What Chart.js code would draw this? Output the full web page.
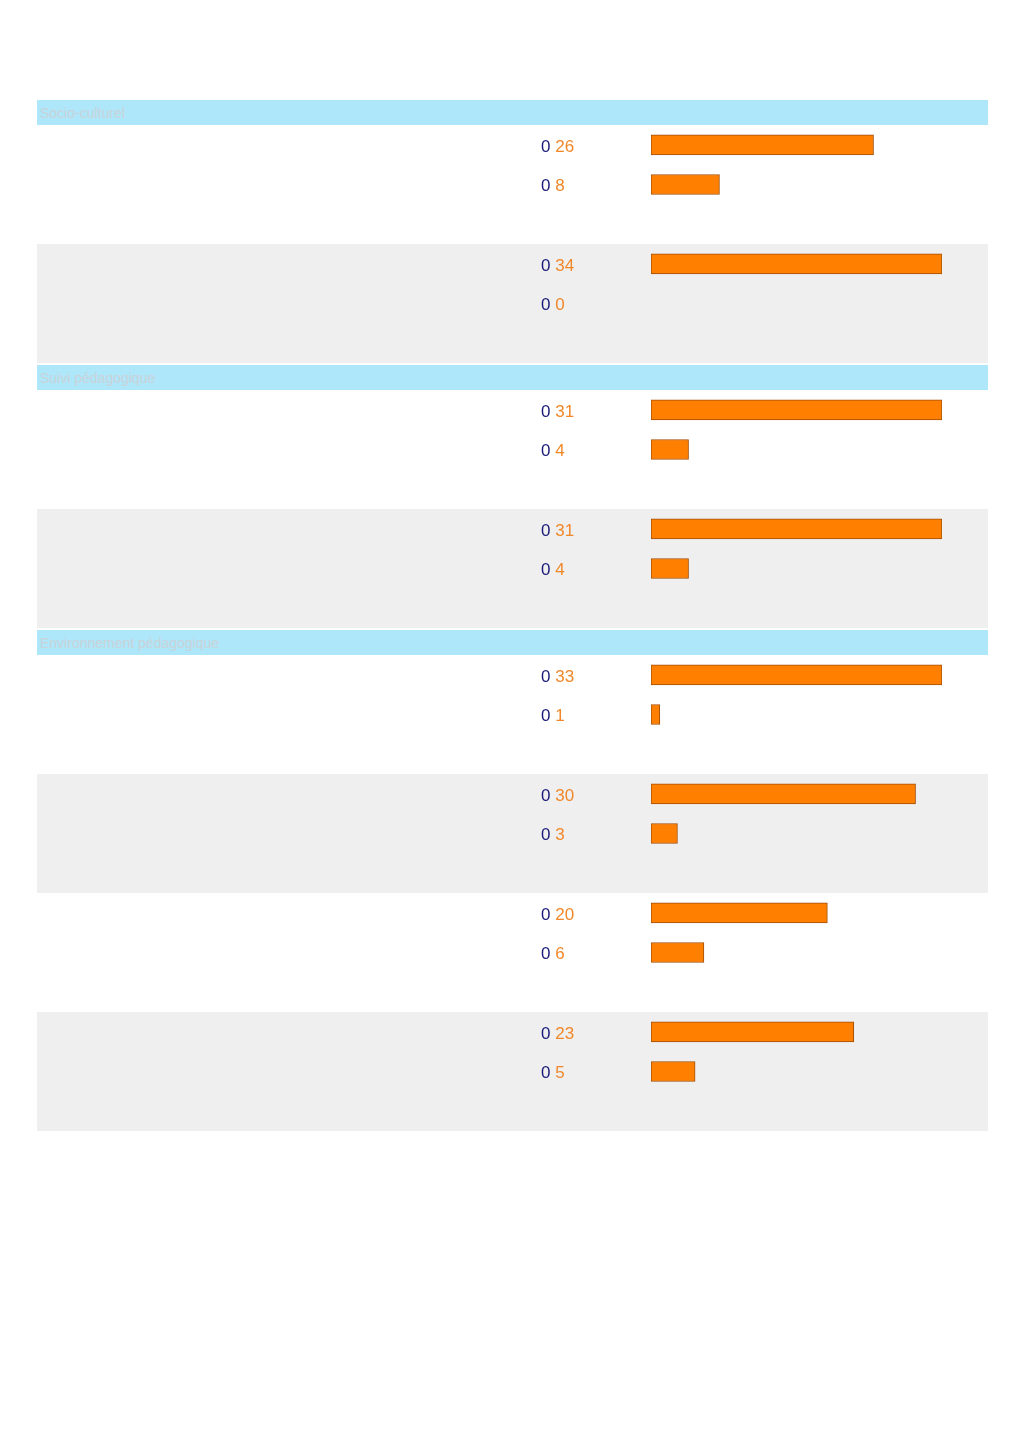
<!DOCTYPE html>
<html>
<head>
<meta charset="utf-8">
<script src="https://cdn.jsdelivr.net/npm/chart.js@4"></script>
<style>
  body { margin: 0; background: #fff; font-family: "Liberation Sans", Arial, sans-serif; }
  .sec { position: absolute; left: 0; width: 1024px; }
  .head { position: absolute; left: 37px; width: 951px; height: 25px; background: #aee6fa;
          color: #c9d3d9; font-size: 14px; line-height: 27px; padding-left: 3px; box-sizing: border-box; }
  canvas { position: absolute; left: 0; }
</style>
</head>
<body>
<div class="sec" style="top:100px"><div class="head">Socio-culturel</div><canvas id="c1" width="1024" height="238" style="top:25px"></canvas></div>
<div class="sec" style="top:365px"><div class="head">Suivi pédagogique</div><canvas id="c2" width="1024" height="238" style="top:25px"></canvas></div>
<div class="sec" style="top:630px"><div class="head">Environnement pédagogique</div><canvas id="c3" width="1024" height="476" style="top:25px"></canvas></div>
<script>
// valeurs par section, deux barres par groupe
const seccion1 = [[26, 8], [34, 0]];
const seccion2 = [[31, 4], [31, 4]];
const seccion3 = [[33, 1], [30, 3], [20, 6], [23, 5]];
const ceros = 0; // valeur bleue affichée devant chaque barre

const naranja = '#ff8000';
const borde = '#a24e08';

// fonds gris et etiquettes
const filasPlugin = {
  id: 'filas',
  beforeDatasetsDraw(chart) {
    const c = chart.ctx, y = chart.scales.y;
    const n = chart.data.labels.length;
    const paso = (y.bottom - y.top) / n;
    const grupos = n / 3;
    c.save();
    for (let g = 0; g < grupos; g++) {
      if (g % 2 === 1) {
        const top = y.getPixelForValue(g * 3) - paso / 2;
        c.fillStyle = '#efefef';
        c.fillRect(37, top, 951, paso * 3);
      }
    }
    c.restore();
  },
  afterDatasetsDraw(chart) {
    const c = chart.ctx, y = chart.scales.y;
    const vals = chart.data.datasets[0].data;
    c.save();
    c.font = '17px "Liberation Sans", Arial, sans-serif';
    c.textBaseline = 'middle';
    vals.forEach((v, i) => {
      if (v === null) return;
      const py = y.getPixelForValue(i) + 2;
      c.fillStyle = '#1a1a78';
      c.fillText(String(ceros), 541, py);
      const w = c.measureText(ceros + ' ').width;
      c.fillStyle = '#f0882a';
      c.fillText(String(v), 541 + w, py);
    });
    c.restore();
  }
};

const crearChart = (id, grupos) => {
  const labels = [];
  const data = [];
  grupos.forEach((g, gi) => {
    g.forEach((v, vi) => { labels.push('g' + gi + 'b' + vi); data.push(v); });
    labels.push('g' + gi + 'x');
    data.push(null);
  });
  const max = Math.max(...data.filter(v => v !== null));
  new Chart(document.getElementById(id), {
    type: 'bar',
    data: {
      labels,
      datasets: [{
        data,
        backgroundColor: naranja,
        borderColor: borde,
        borderWidth: 1,
        borderSkipped: false,
        barThickness: 20
      }]
    },
    options: {
      indexAxis: 'y',
      responsive: false,
      animation: false,
      devicePixelRatio: 1,
      layout: { padding: { left: 651, right: 82, top: 0, bottom: 0 } },
      scales: {
        x: { display: false, min: 0, max: max },
        y: { display: false, offset: true }
      },
      plugins: { legend: { display: false }, tooltip: { enabled: false } }
    },
    plugins: [filasPlugin]
  });
};

crearChart('c1', seccion1);
crearChart('c2', seccion2);
crearChart('c3', seccion3);
</script>
</body>
</html>
